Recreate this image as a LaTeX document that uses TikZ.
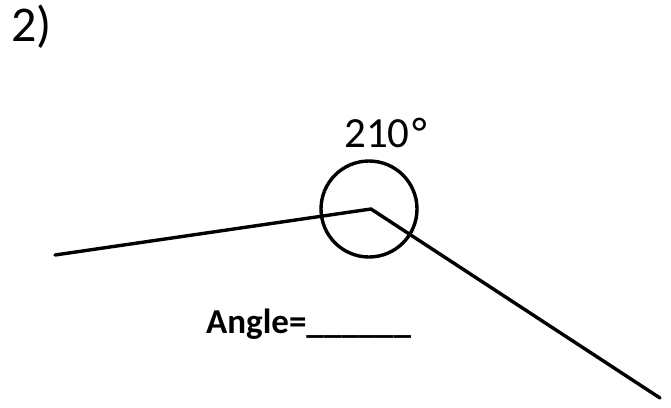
\documentclass[tikz,border=0pt]{standalone}
\usepackage{fontspec}
\setmainfont{Carlito}
\begin{document}
\begin{tikzpicture}[x=1pt,y=-1pt,
  ray/.style={line width=3.4pt,line cap=round,line join=miter},
  ring/.style={line width=3.4pt}]
\useasboundingbox (0,0) rectangle (671,407);
\coordinate (v) at (371,209);
\coordinate (l) at (55,255);
\coordinate (r) at (660,398);
\draw[ray] (l) -- (v) -- (r);
\node[ring,draw,circle,minimum size=96pt,inner sep=0pt] (c) at (369,209) {};
\node[anchor=base west,inner sep=0pt,font=\fontsize{43}{48}\selectfont] (lab) at (344,147) {210\kern3pt°};
\node[anchor=base west,inner sep=0pt,font=\bfseries\fontsize{35}{40}\selectfont] (ang) at (206,333) {Angle=\_\_\_\_\_\_};
\node[anchor=base west,inner sep=0pt,font=\fontsize{50}{56}\selectfont] (num) at (11,41) {2)};
\end{tikzpicture}
\end{document}
